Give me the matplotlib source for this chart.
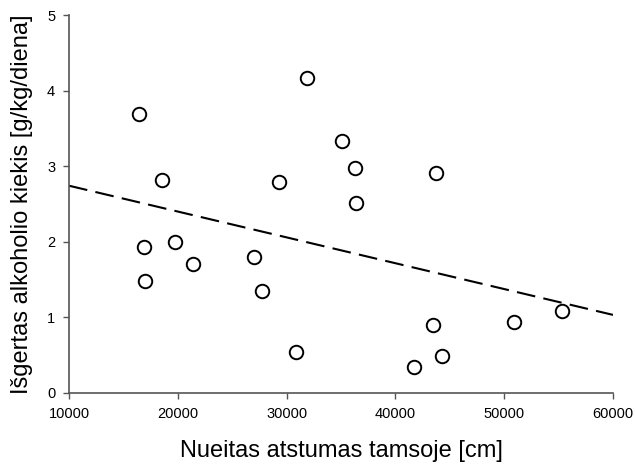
import matplotlib
matplotlib.use("Agg")
import matplotlib.pyplot as plt

plt.rcParams['font.family'] = ['Liberation Sans', 'DejaVu Sans']

# Nueitas atstumas (cm) ir išgertas alkoholio kiekis (g/kg/diena)
atstumas = [16434, 31847, 18576, 29274, 35064, 36314, 43731, 36351,
            16923, 19743, 21369, 16985, 27004, 27739, 30833,
            43487, 41738, 44283, 50931, 55340]
alkoholis = [3.69, 4.16, 2.82, 2.79, 3.33, 2.97, 2.91, 2.505,
             1.93, 2.00, 1.71, 1.48, 1.80, 1.34, 0.54,
             0.90, 0.34, 0.48, 0.93, 1.08]

# regresijos tiese
line_x = [10000, 60000]
line_y = [2.74, 1.03]

fig = plt.figure(figsize=(6.35, 4.66), dpi=100)
ax = fig.add_axes([0.1087, 0.1573, 0.8567, 0.8105])

ax.plot(line_x, line_y, color='black', lw=1.5, dashes=(9, 4))
ax.plot(atstumas, alkoholis, 'o', mfc='white', mec='black', ms=9.7, mew=1.4,
        linestyle='none')

ax.set_xlim(10000, 60000)
ax.set_ylim(0, 5)
ax.set_xticks([10000, 20000, 30000, 40000, 50000, 60000])
ax.set_yticks([0, 1, 2, 3, 4, 5])
ax.spines['top'].set_visible(False)
ax.spines['right'].set_visible(False)
for s in ['left', 'bottom']:
    ax.spines[s].set_color('#555555')
    ax.spines[s].set_linewidth(1.2)
ax.tick_params(direction='out', length=4, width=1, color='#555555',
               labelsize=10.5, pad=6)

ax.set_xlabel('Nueitas atstumas tamsoje [cm]', fontsize=17, labelpad=14)
ax.set_ylabel('Išgertas alkoholio kiekis [g/kg/diena]', fontsize=17, labelpad=10)

fig.savefig('out.png', dpi=100)
